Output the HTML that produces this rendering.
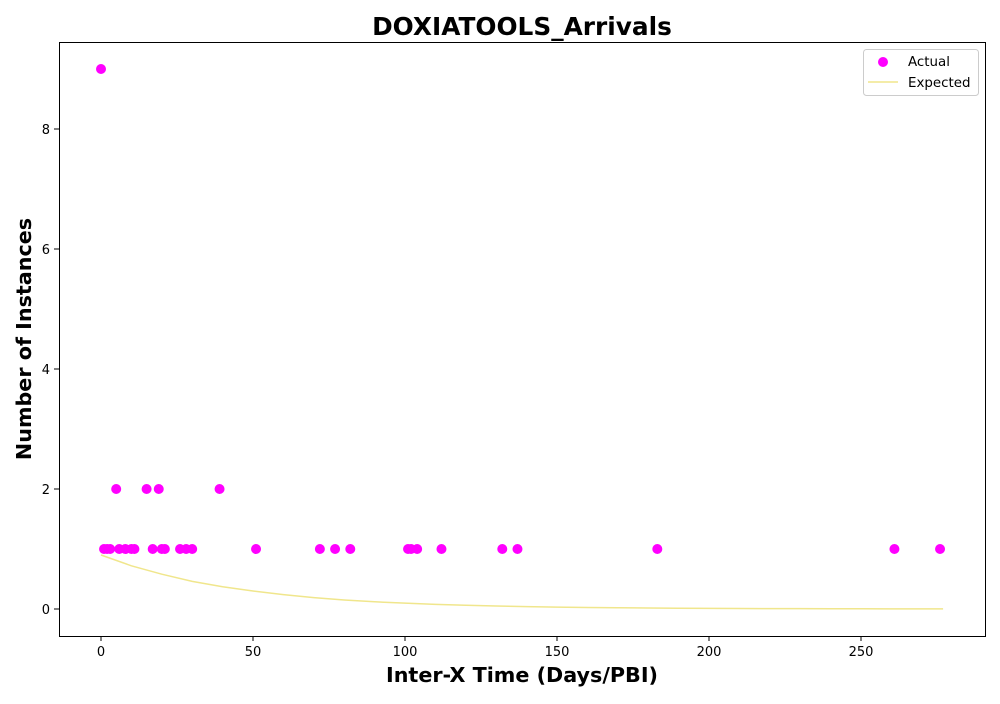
<!DOCTYPE html>
<html><head><meta charset="utf-8"><style>
body{margin:0;background:#fff;font-family:"DejaVu Sans","Liberation Sans",sans-serif}
svg text{font-family:"DejaVu Sans","Liberation Sans",sans-serif}
</style></head><body>
<svg id="c" width="1000" height="700" xmlns="http://www.w3.org/2000/svg">
<rect width="1000" height="700" fill="#fff"/>
<text x="522" y="35" text-anchor="middle" font-size="24.8" font-weight="bold">DOXIATOOLS_Arrivals</text>
<text x="522" y="682" text-anchor="middle" font-size="20.7" font-weight="bold">Inter-X Time (Days/PBI)</text>
<text transform="translate(31,339) rotate(-90)" text-anchor="middle" font-size="20.7" font-weight="bold">Number of Instances</text>
<g id="ticks"></g>
<g id="marks"></g>
<rect x="59.5" y="42.5" width="926" height="594" fill="none" stroke="#000" stroke-width="1"/>
<g>
<rect x="863.5" y="49.5" width="115" height="46" rx="3" fill="#fff" stroke="#ccc"/>
<circle cx="883" cy="62" r="5" fill="#ff00ff"/>
<text x="908" y="66" font-size="13.4">Actual</text>
<line x1="868" y1="82" x2="898" y2="82" stroke="#f0e68c" stroke-width="1.5"/>
<text x="908" y="87" font-size="13.4">Expected</text>
</g>
</svg>
<script>
const actualX=[0,1,2,3,5,15,19,39,6,8,10,11,17,20,21,26,28,30,51,72,77,82,101,102,104,112,132,137,183,261,276];
const actualY=[9,1,1,1,2,2,2,2,1,1,1,1,1,1,1,1,1,1,1,1,1,1,1,1,1,1,1,1,1,1,1];
const expX=[0,10,20,30,40,50,60,70,80,90,100,110,120,130,140,150,160,170,180,190,200,210,220,230,240,250,260,270,277];
const expY=[0.90,0.72,0.58,0.46,0.37,0.30,0.24,0.19,0.15,0.12,0.098,0.078,0.063,0.050,0.040,0.032,0.026,0.021,0.016,0.013,0.011,0.0085,0.0068,0.0055,0.0044,0.0035,0.0028,0.0022,0.002];
const xTicks=[0,50,100,150,200,250];
const yTicks=[0,2,4,6,8];
const NS="http://www.w3.org/2000/svg";
function sx(v){return 101+v*3.04;}
function sy(v){return 609-v*60;}
const tg=document.getElementById('ticks'),mg=document.getElementById('marks');
function mk(t,a,p){const e=document.createElementNS(NS,t);for(const k in a)e.setAttribute(k,a[k]);p.appendChild(e);return e;}
xTicks.forEach(v=>{
 const l=mk('line',{x1:sx(v),x2:sx(v),y1:636,y2:641,stroke:'#000'},tg);
 
 
 const t=mk('text',{x:sx(v),y:656,'text-anchor':'middle','font-size':13},tg);t.textContent=v;
 
 
});
yTicks.forEach(v=>{
 const l=mk('line',{x1:54,x2:59,y1:sy(v),y2:sy(v),stroke:'#000'},tg);
 
 
 const t=mk('text',{x:50,y:sy(v)+5,'text-anchor':'end','font-size':13},tg);t.textContent=v;
 
 
});
const p=mk('polyline',{points:expX.map((x,i)=>sx(x)+','+sy(expY[i])).join(' '),fill:'none',stroke:'#f0e68c','stroke-width':1.5},mg);


actualX.forEach((x,i)=>{
 const c=mk('circle',{cx:sx(x),cy:sy(actualY[i]),r:5,fill:'#ff00ff'},mg);
 
 
});
</script>
</body></html>
